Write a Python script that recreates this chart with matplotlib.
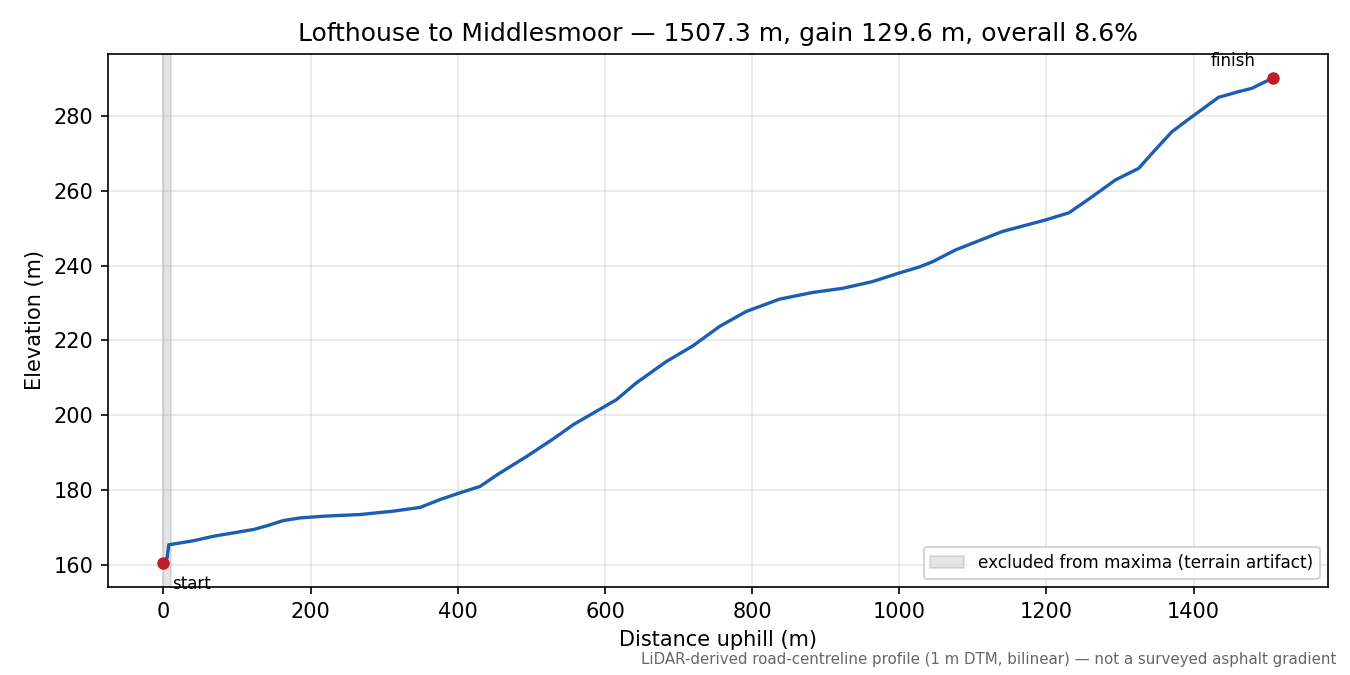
import matplotlib
matplotlib.use("Agg")
import matplotlib.pyplot as plt

distance_m = [0, 5, 7.2, 41.1, 68.3, 95.4, 122.5, 140.7, 163.2, 185.9, 222.1, 267.3,
              312.4, 348.7, 375.8, 402.9, 430.1, 457.2, 493.4, 529.5, 556.7, 583.8,
              615.5, 642.6, 683.3, 719.4, 755.7, 791.9, 837.1, 882.3, 922.9, 963.6,
              999.9, 1027, 1045.1, 1076.8, 1140, 1198.9, 1230.5, 1262.1, 1293.8, 1325.5,
              1343.5, 1370.6, 1397.8, 1434, 1461.1, 1479.2, 1504, 1507.3]
elevation_m = [160.5, 161.8, 165.3, 166.4, 167.6, 168.5, 169.4, 170.4, 171.8, 172.5, 173.0, 173.4,
               174.3, 175.3, 177.4, 179.2, 180.9, 184.5, 188.9, 193.6, 197.4, 200.5,
               204.1, 208.6, 214.3, 218.5, 223.7, 227.7, 231.0, 232.8, 233.9, 235.7,
               238.0, 239.6, 241.0, 244.2, 249.1, 252.2, 254.1, 258.4, 262.9, 266.0,
               270.0, 275.8, 279.8, 285.0, 286.5, 287.4, 289.8, 290.1]
excluded_span = [0, 10]

title = "Lofthouse to Middlesmoor \u2014 1507.3 m, gain 129.6 m, overall 8.6%"
footnote = "LiDAR-derived road-centreline profile (1 m DTM, bilinear) \u2014 not a surveyed asphalt gradient"

fig, ax = plt.subplots(figsize=(9, 4.5), dpi=150)
fig.subplots_adjust(left=0.08, right=0.9837, top=0.92, bottom=0.1304)

ax.axvspan(excluded_span[0], excluded_span[1], color="grey", alpha=0.2,
           label="excluded from maxima (terrain artifact)")
ax.plot(distance_m, elevation_m, color="#1a5fb4", lw=1.6)
ax.plot([distance_m[0], distance_m[-1]], [elevation_m[0], elevation_m[-1]], "o",
        color="#c01c28", ms=5, zorder=5)
ax.annotate("start", (distance_m[0], elevation_m[0]), xytext=(4, -6),
            textcoords="offset points", ha="left", va="top", fontsize=8)
ax.annotate("finish", (distance_m[-1], elevation_m[-1]), xytext=(-8, 4),
            textcoords="offset points", ha="right", va="bottom", fontsize=8)

ax.set_title(title, fontsize=12)
ax.set_xlabel("Distance uphill (m)")
ax.set_ylabel("Elevation (m)")
ax.grid(True, alpha=0.3)
ax.legend(loc="lower right", fontsize=8.1)
fig.text(0.99, 0.012, footnote, ha="right", va="bottom", fontsize=7.2, color="#666666")

fig.savefig("out.png", dpi=150)
